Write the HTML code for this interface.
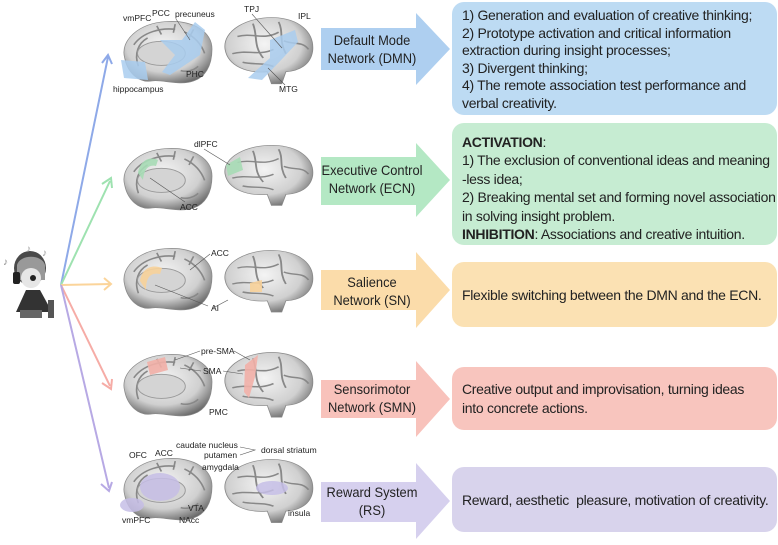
<!DOCTYPE html>
<html><head><meta charset="utf-8"><style>
body{margin:0;background:#fff;width:778px;height:545px;overflow:hidden;font-family:"Liberation Sans",sans-serif}
svg{position:absolute;left:0;top:0}
.box{position:absolute;left:452px;border-radius:12px;font-size:14px;color:#222;padding:0 10px;box-sizing:border-box;width:325px;white-space:nowrap;letter-spacing:-0.3px}
.lab{position:absolute;font-size:14px;line-height:18px;text-align:center;color:#222;white-space:nowrap;transform:scaleX(0.92);transform-origin:center;width:120px;left:312px}
</style></head><body>
<svg width="778" height="545" viewBox="0 0 778 545">
<defs>
<radialGradient id="g" cx="45%" cy="40%" r="65%"><stop offset="0" stop-color="#f4f4f4"/><stop offset="0.65" stop-color="#d0d0d0"/><stop offset="1" stop-color="#6a6a6a"/></radialGradient>
<g id="med">
<path d="M5,45 C0,25 20,5 50,3 C80,1 100,15 100,35 C100,55 92,68 80,72 C65,78 45,70 35,72 C20,75 8,62 5,45Z" fill="url(#g)" stroke="#888" stroke-width="0.8"/>
<path d="M15,30 C25,15 45,10 60,12 M20,55 C15,40 20,28 30,22 M70,15 C80,20 88,28 92,40 M85,55 C80,60 72,62 66,60 M40,8 L45,18 M60,6 L58,16 M80,12 L75,22" fill="none" stroke="#888" stroke-width="1.8"/>
<ellipse cx="45" cy="40" rx="26" ry="14" fill="#d4d4d4" stroke="#999"/>
</g>
<g id="lat">
<path d="M3,40 C0,18 25,2 50,3 C75,4 90,20 88,42 C86,58 75,65 62,66 L58,80 L48,80 L44,66 C25,68 6,60 3,40Z" fill="url(#g)" stroke="#888" stroke-width="0.8"/>
<path d="M15,25 C30,20 40,30 55,20 M10,45 C25,40 35,48 50,40 M60,30 C70,35 78,30 84,40 M30,10 C35,25 30,35 40,50 M55,8 C60,20 55,30 62,45 M20,55 C30,58 40,55 50,60" fill="none" stroke="#888" stroke-width="1.8"/>
</g>
</defs>
<g transform="translate(120,19) scale(0.92,0.86)"><use href="#med"/></g><g transform="translate(222,15) scale(1.03,0.86)"><use href="#lat"/></g>
<g transform="translate(120,146) scale(0.92,0.86)"><use href="#med"/></g><g transform="translate(222,143) scale(1.03,0.78)"><use href="#lat"/></g>
<g transform="translate(120,246) scale(0.92,0.86)"><use href="#med"/></g><g transform="translate(222,248) scale(1.03,0.8)"><use href="#lat"/></g>
<g transform="translate(120,352) scale(0.92,0.86)"><use href="#med"/></g><g transform="translate(222,350) scale(1.03,0.84)"><use href="#lat"/></g>
<g transform="translate(120,456) scale(0.92,0.86)"><use href="#med"/></g><g transform="translate(222,457) scale(1.03,0.82)"><use href="#lat"/></g>
<g fill="#a9cdef" opacity="0.85">
<path d="M121,60 L145,62 L148,80 L124,78Z"/><path d="M160,40 L182,40 L195,22 L205,30 L200,55 L170,75 L162,72 L175,55Z"/>
<path d="M270,40 L295,30 L298,42 L283,58 L262,80 L248,78 L270,58Z"/></g>
<g fill="#a8dcb6" opacity="0.9"><path d="M138,173 C140,160 150,156 158,160 L156,166 C148,164 144,170 143,180Z"/><path d="M226,165 L240,157 L243,170 L228,176Z"/></g>
<g fill="#f8d29a" opacity="0.9"><path d="M140,281 C142,268 152,264 162,268 L160,274 C150,272 146,278 146,290Z"/><path d="M250,283 L262,280 L262,292 L250,292Z"/></g>
<g fill="#f2b0a8" opacity="0.9"><path d="M147,362 L165,357 L168,370 L150,375Z"/><path d="M245,365 L258,355 L255,377 L249,398 L244,392Z"/></g>
<g fill="#c6bee6" opacity="0.85"><ellipse cx="160" cy="487" rx="20" ry="14"/><ellipse cx="132" cy="505" rx="12" ry="7"/><ellipse cx="272" cy="488" rx="16" ry="7"/></g>
<g font-size="8.5" fill="#222" font-family="Liberation Sans,sans-serif">
<text x="123" y="21">vmPFC</text><text x="152" y="16">PCC</text><text x="175" y="17">precuneus</text><text x="186" y="77">PHC</text><text x="113" y="92">hippocampus</text>
<text x="244" y="12">TPJ</text><text x="298" y="19">IPL</text><text x="279" y="92">MTG</text>
<text x="194" y="147">dlPFC</text><text x="180" y="210">ACC</text>
<text x="211" y="256">ACC</text><text x="211" y="311">AI</text>
<text x="201" y="354">pre-SMA</text><text x="203" y="374">SMA</text><text x="209" y="415">PMC</text>
<text x="176" y="448">caudate nucleus</text><text x="261" y="453">dorsal striatum</text><text x="129" y="458">OFC</text><text x="155" y="456">ACC</text><text x="204" y="458">putamen</text><text x="202" y="470">amygdala</text><text x="188" y="511">VTA</text><text x="122" y="523">vmPFC</text><text x="179" y="523">NAcc</text><text x="288" y="516">insula</text>
</g>
<g stroke="#555" stroke-width="0.6" fill="none"><line x1="176" y1="19" x2="190" y2="40"/><line x1="252" y1="14" x2="282" y2="48"/><line x1="285" y1="85" x2="268" y2="68"/><line x1="204" y1="149" x2="230" y2="165"/><line x1="185" y1="202" x2="150" y2="178"/><line x1="210" y1="254" x2="190" y2="270"/><line x1="208" y1="306" x2="155" y2="285"/><line x1="213" y1="308" x2="228" y2="300"/><line x1="200" y1="351" x2="175" y2="360"/><line x1="234" y1="351" x2="250" y2="360"/><line x1="201" y1="371" x2="180" y2="368"/><line x1="223" y1="371" x2="243" y2="374"/><path d="M240,447 L255,450 L240,455"/></g>
<g stroke-width="2" fill="none">
<line x1="61" y1="285" x2="108" y2="57" stroke="#8ea9e8"/><path d="M102,63 L108,55 L112,64" stroke="#8ea9e8"/>
<line x1="61" y1="285" x2="110" y2="181" stroke="#9ee2b0"/><path d="M102,184 L111,178 L112,188" stroke="#9ee2b0"/>
<line x1="61" y1="285" x2="111" y2="284" stroke="#fbd49a"/><path d="M104,278 L111,284 L104,290" stroke="#fbd49a"/>
<line x1="61" y1="285" x2="110" y2="386" stroke="#f6aca6"/><path d="M102,383 L111,389 L112,379" stroke="#f6aca6"/>
<line x1="61" y1="285" x2="109" y2="488" stroke="#b7a9e4"/><path d="M101,484 L109,491 L112,482" stroke="#b7a9e4"/>
</g>
<g>
<ellipse cx="30" cy="268" rx="16" ry="17" fill="#4a4a4a"/><path d="M17,265 C20,254 42,254 45,265 L45,280 L17,280Z" fill="#999"/><circle cx="31" cy="278" r="10" fill="#e6e6e6"/><circle cx="33" cy="278" r="3" fill="#222"/>
<rect x="13" y="272" width="7" height="12" rx="2" fill="#222"/>
<path d="M16,312 L26,290 L40,290 L52,312Z" fill="#333"/><rect x="48" y="300" width="6" height="18" fill="#555"/><rect x="20" y="310" width="22" height="8" fill="#666"/>
<text x="3" y="265" font-size="10" fill="#888">♪</text><text x="26" y="252" font-size="10" fill="#999">♪</text><text x="42" y="256" font-size="10" fill="#999">♪</text>
</g>
<path d="M321,28 H416 V13 L450,49 L416,85 V70 H321Z" fill="#aecff0"/>
<path d="M321,157 H416 V143 L450,180 L416,217 V205 H321Z" fill="#b4e8c4"/>
<path d="M321,270 H416 V252 L450,290 L416,328 V310 H321Z" fill="#fbdcaa"/>
<path d="M321,380 H416 V361 L450,399 L416,437 V418 H321Z" fill="#f8c2bb"/>
<path d="M321,482 H416 V463 L450,501 L416,539 V522 H321Z" fill="#d6d0ee"/>
</svg>
<div class="lab" style="top:31px">Default Mode<br>Network (DMN)</div>
<div class="lab" style="top:161px">Executive Control<br>Network (ECN)</div>
<div class="lab" style="top:273px">Salience<br>Network (SN)</div>
<div class="lab" style="top:380px">Sensorimotor<br>Network (SMN)</div>
<div class="lab" style="top:483px">Reward System<br>(RS)</div>
<div class="box" style="top:2px;height:113px;background:#bddbf3;padding-top:5px;line-height:17.6px">1) Generation and evaluation of creative thinking;<br>2) Prototype activation and critical information<br>extraction during insight processes;<br>3) Divergent thinking;<br>4) The remote association test performance and<br>verbal creativity.</div>
<div class="box" style="top:123px;height:122px;background:#c6ecd2;padding-top:10px;line-height:18.4px"><b>ACTIVATION</b>:<br>1) The exclusion of conventional ideas and meaning<br>-less idea;<br>2) Breaking mental set and forming novel association<br>in solving insight problem.<br><b>INHIBITION</b>: Associations and creative intuition.</div>
<div class="box" style="top:262px;height:65px;background:#fbe1b3;padding-top:24px;line-height:18px">Flexible switching between the DMN and the ECN.</div>
<div class="box" style="top:367px;height:63px;background:#f8c5be;padding-top:13px;line-height:19px">Creative output and improvisation, turning ideas<br>into concrete actions.</div>
<div class="box" style="top:467px;height:65px;background:#d8d3ec;padding-top:24px;line-height:18px">Reward, aesthetic&nbsp; pleasure, motivation of creativity.</div>
</body></html>
